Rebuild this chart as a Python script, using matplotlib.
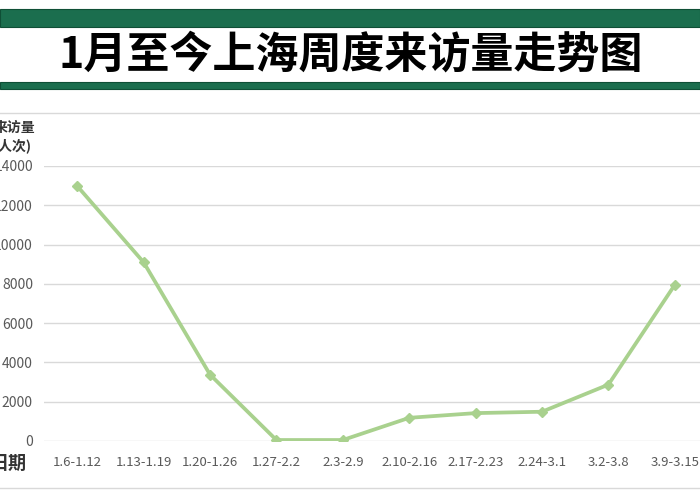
import matplotlib
matplotlib.use('Agg')
import matplotlib.pyplot as plt
from matplotlib.patches import Rectangle
from matplotlib.lines import Line2D

plt.rcParams['font.family'] = ['Noto Sans CJK SC', 'DejaVu Sans']

# data
weeks = ['1.6-1.12', '1.13-1.19', '1.20-1.26', '1.27-2.2', '2.3-2.9',
         '2.10-2.16', '2.17-2.23', '2.24-3.1', '3.2-3.8', '3.9-3.15']
visits = [12980, 9100, 3380, 50, 50, 1180, 1420, 1490, 2870, 7950]
yticks = [0, 2000, 4000, 6000, 8000, 10000, 12000, 14000]

title = '1月至今上海周度来访量走势图'
band_green = '#1b6e4e'
line_green = '#a9d18e'
grid_grey = '#d9d9d9'

fig = plt.figure(figsize=(7, 5), dpi=100)
W, H = 700, 500

# title bands
fig.patches.append(Rectangle((0, 1 - 27 / H), 1, 18 / H, transform=fig.transFigure,
                             facecolor=band_green, edgecolor='#0f4f36', lw=0.8))
fig.patches.append(Rectangle((0, 1 - 89 / H), 1, 7 / H, transform=fig.transFigure,
                             facecolor=band_green, edgecolor='#0f4f36', lw=0.8))
fig.text(351 / W, 1 - 55 / H, title, ha='center', va='center',
         fontsize=31, fontweight='bold', color='black')

# thin separators
fig.add_artist(Line2D([0, 1], [1 - 113 / H, 1 - 113 / H], color=grid_grey, lw=1,
                      transform=fig.transFigure))
fig.add_artist(Line2D([0, 1], [1 - 488 / H, 1 - 488 / H], color=grid_grey, lw=1,
                      transform=fig.transFigure))

ax = fig.add_axes([44 / W, 1 - 441 / H, 664 / W, 275 / H])
x = range(len(weeks))
ax.plot(x, visits, color=line_green, lw=2.7, marker='D', markersize=5.5,
        markerfacecolor=line_green, markeredgecolor=line_green, zorder=3)

ax.set_xlim(-0.5, len(weeks) - 0.5)
ax.set_ylim(0, 14000)
ax.set_yticks(yticks)
ax.set_yticklabels([str(v) for v in yticks])
ax.set_xticks(list(x))
ax.set_xticklabels(weeks)
ax.yaxis.grid(True, color=grid_grey, lw=1)
ax.set_axisbelow(True)
for s in ax.spines.values():
    s.set_visible(False)
ax.tick_params(axis='y', length=0, pad=8, labelsize=10, labelcolor='#595959')
ax.tick_params(axis='x', length=0, pad=11, labelsize=9.5, labelcolor='#595959')

fig.text(-6 / W, 1 - 128 / H, '来访量', ha='left', va='center',
         fontsize=10, fontweight='bold', color='#333333')
fig.text(-6 / W, 1 - 146 / H, '(人次)', ha='left', va='center',
         fontsize=10, fontweight='bold', color='#333333')
fig.text(-10 / W, 1 - 463 / H, '日期', ha='left', va='center',
         fontsize=13, fontweight='bold', color='#333333')

fig.savefig('out.png', dpi=100)
